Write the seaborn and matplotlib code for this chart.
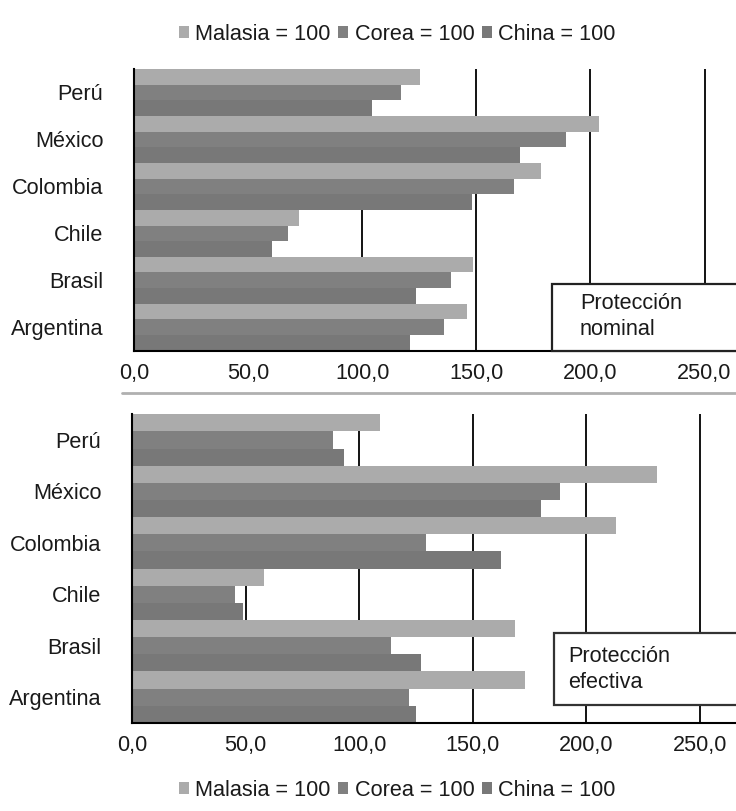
import matplotlib
matplotlib.use("Agg")
import matplotlib.pyplot as plt
from matplotlib.patches import Patch, Rectangle
from matplotlib.lines import Line2D
import seaborn as sns
import pandas as pd

# Países (de arriba hacia abajo) y series de referencia
paises = ["Perú", "México", "Colombia", "Chile", "Brasil", "Argentina"]
series = ["Malasia = 100", "Corea = 100", "China = 100"]

# Protección nominal
nominal_malasia = [125.4, 203.8, 178.3, 72.4, 148.5, 145.9]
nominal_corea = [117.0, 189.4, 166.5, 67.4, 139.0, 135.7]
nominal_china = [104.5, 169.2, 148.1, 60.4, 123.7, 120.8]

# Protección efectiva
efectiva_malasia = [109.3, 231.1, 213.1, 58.3, 168.7, 172.9]
efectiva_corea = [88.3, 188.5, 129.4, 45.2, 114.0, 122.0]
efectiva_china = [93.3, 180.1, 162.2, 49.0, 127.1, 125.0]

x_ticks = [0, 50, 100, 150, 200, 250]
x_ticklabels = ["0,0", "50,0", "100,0", "150,0", "200,0", "250,0"]

colores = ["#ababab", "#808080", "#787878"]

sns.set_style("white")
plt.rcParams["font.family"] = ["Liberation Sans", "DejaVu Sans"]
FS = 15.6
TXT = "#1a1a1a"


def tabla(malasia, corea, china):
    filas = []
    for serie, valores in zip(series, [malasia, corea, china]):
        for pais, v in zip(paises, valores):
            filas.append({"País": pais, "Serie": serie, "Valor": v})
    return pd.DataFrame(filas)


fig = plt.figure(figsize=(7.36, 8.11), dpi=100)

ax_top = fig.add_axes([134 / 736, 1 - 350.7 / 811, 1 - 134 / 736, (350.7 - 69) / 811])
ax_bot = fig.add_axes([131.9 / 736, 1 - 722.8 / 811, 1 - 131.9 / 736, (722.8 - 414.3) / 811])


def dibujar(ax, df, xmax):
    for xv in x_ticks[1:]:
        ax.axvline(xv, color="black", lw=1.3, zorder=0)
    sns.barplot(data=df, y="País", x="Valor", hue="Serie", order=paises,
                hue_order=series, palette=colores, orient="h", width=1.0,
                gap=0, errorbar=None, legend=False, linewidth=0, ax=ax,
                zorder=2)
    ax.set_xlim(0, xmax)
    ax.set_ylim(len(paises) - 0.5, -0.5)
    ax.set_xlabel("")
    ax.set_ylabel("")
    ax.set_xticks(x_ticks)
    ax.set_xticklabels(x_ticklabels, fontsize=FS, color=TXT)
    ax.tick_params(axis="x", direction="inout", length=7, width=1.2,
                   color="black", pad=5)
    ax.set_yticks(range(len(paises)))
    ax.set_yticklabels(paises, fontsize=FS, color=TXT)
    ax.set_yticks([i - 0.5 for i in range(len(paises) + 1)], minor=True)
    ax.tick_params(axis="y", which="major", length=0, pad=22)
    ax.tick_params(axis="y", which="minor", direction="out", length=6,
                   width=1.2, color="black")
    for s in ["top", "right"]:
        ax.spines[s].set_visible(False)
    for s in ["left", "bottom"]:
        ax.spines[s].set_color("black")
        ax.spines[s].set_linewidth(1.5)
        ax.spines[s].set_zorder(3)


dibujar(ax_top, tabla(nominal_malasia, nominal_corea, nominal_china), 263.8)
dibujar(ax_bot, tabla(efectiva_malasia, efectiva_corea, efectiva_china), 265.8)

# Recuadros con el tipo de protección
fig.patches.append(Rectangle((552 / 736, 1 - 350.7 / 811), 0.3, (350.7 - 284) / 811,
                             transform=fig.transFigure, facecolor="white",
                             edgecolor="#222222", lw=1.6, zorder=5))
fig.text(580 / 736, 1 - 316.5 / 811, "Protección\nnominal", fontsize=FS,
         va="center", ha="left", linespacing=1.3, color=TXT, zorder=6)
fig.patches.append(Rectangle((554 / 736, 1 - 705 / 811), 0.3, (705 - 633) / 811,
                             transform=fig.transFigure, facecolor="white",
                             edgecolor="#333333", lw=1.6, zorder=5))
fig.text(568 / 736, 1 - 669.5 / 811, "Protección\nefectiva", fontsize=FS,
         va="center", ha="left", linespacing=1.3, color=TXT, zorder=6)

# Línea separadora entre paneles
fig.add_artist(Line2D([122 / 736, 1.0], [1 - 393 / 811, 1 - 393 / 811],
                      transform=fig.transFigure, color="#b0b0b0", lw=2))

handles = [Patch(facecolor=c, edgecolor="none", label=s) for c, s in zip(colores, series)]
for yc in [1 - 34 / 811, 1 - 790 / 811]:
    fig.legend(handles=handles, loc="center", bbox_to_anchor=(0.54, yc),
               ncol=3, frameon=False, fontsize=FS, handlelength=0.45,
               handleheight=0.45, handletextpad=0.3, columnspacing=0.35,
               labelcolor=TXT)

fig.savefig("out.png", dpi=100, facecolor="white")
